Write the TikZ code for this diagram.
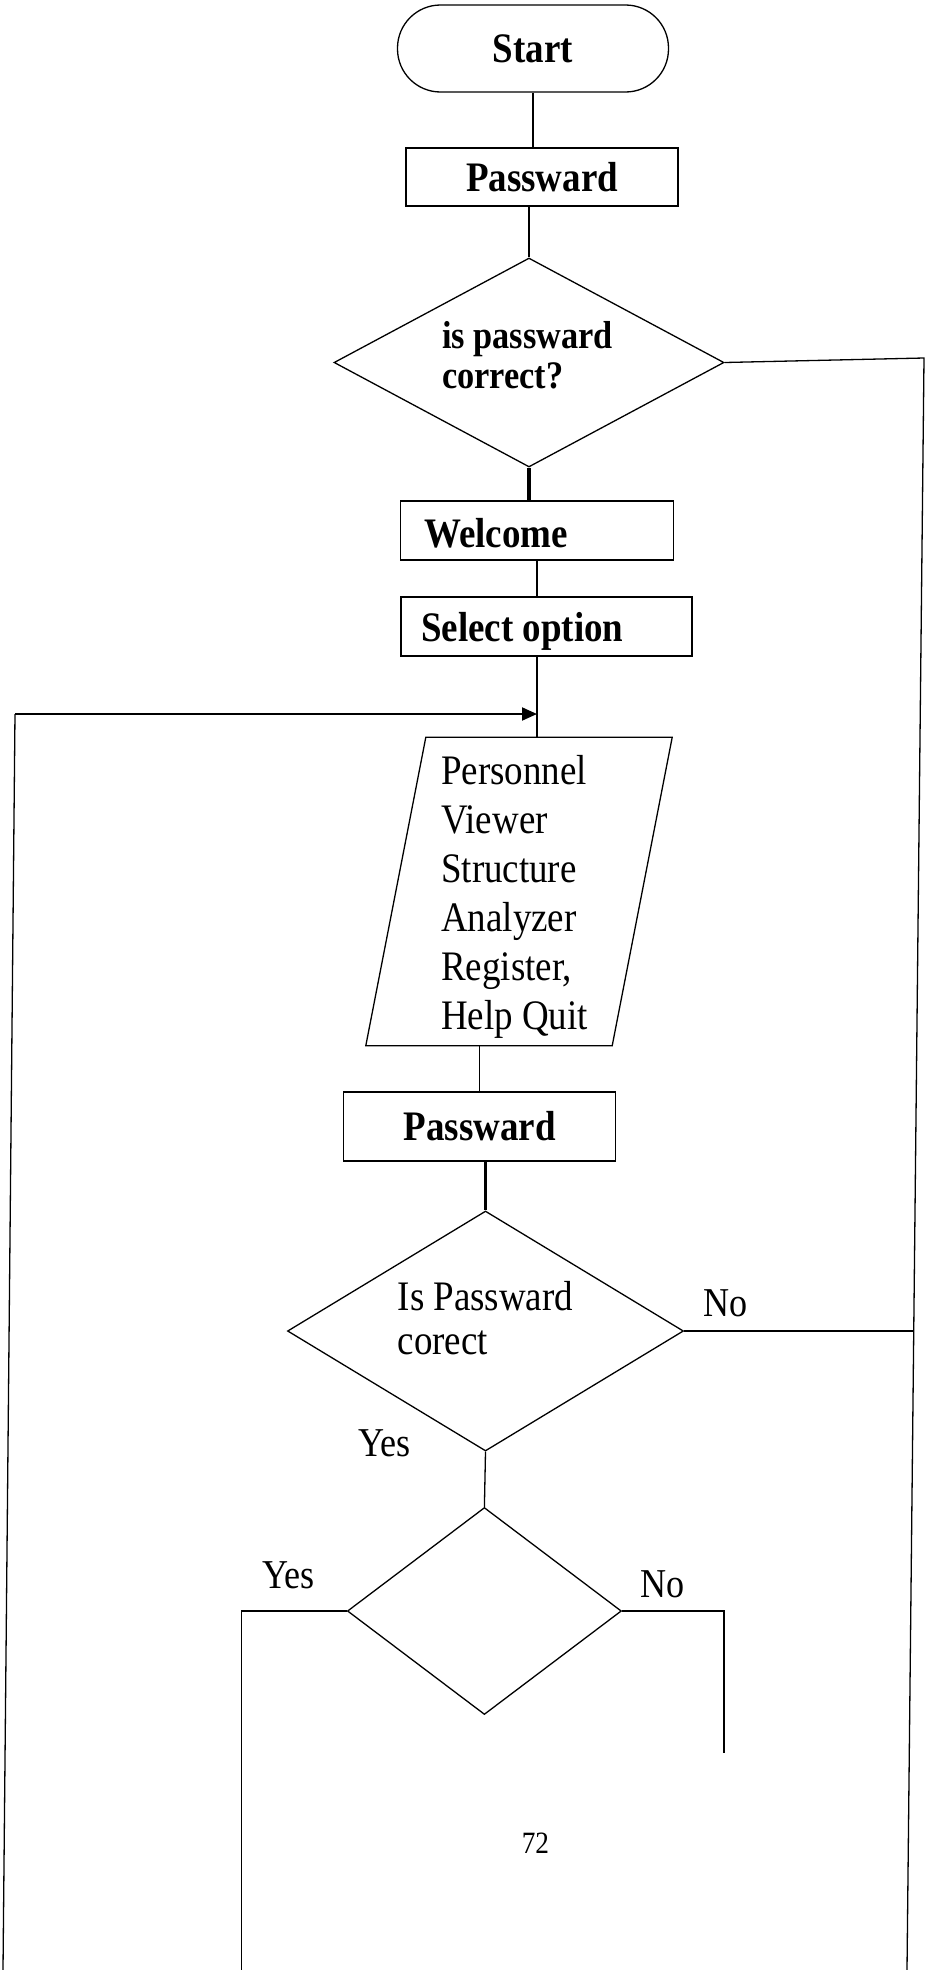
\documentclass[tikz,border=0pt]{standalone}
\usepackage{fontspec}
\setmainfont{Liberation Serif}[FakeStretch=0.88]
\usetikzlibrary{shapes.geometric,arrows.meta,calc}
\begin{document}
\begin{tikzpicture}[x=1pt,y=-1pt,
  ln/.style={line width=1.3pt},
  thickln/.style={line width=3.5pt},
  boxnode/.style={draw,line width=1.3pt,rectangle,inner sep=0pt},
  dia/.style={draw,line width=1.3pt,diamond,inner sep=0pt},
  bigbold/.style={font=\fontsize{42}{49}\selectfont\bfseries,inner sep=0pt},
  boldtxt/.style={font=\fontsize{42}{49}\selectfont\bfseries,inner sep=0pt,anchor=base west},
  qtxt/.style={font=\fontsize{39}{45}\selectfont\bfseries,inner sep=0pt,anchor=base west},
  bigtxt/.style={font=\fontsize{42}{49}\selectfont,inner sep=0pt,anchor=base west},
  lbl/.style={font=\fontsize{41}{48}\selectfont,inner sep=0pt,anchor=base west},
  pagenum/.style={font=\fontsize{31}{36}\selectfont,inner sep=0pt,anchor=base west}]
\useasboundingbox[fill=white] (0,0) rectangle (926,1970);

% nodes
\node[boxnode, rounded corners=43pt, minimum width=271pt, minimum height=87pt, bigbold] (start) at (533,48.5) {Start};
\node[boxnode, minimum width=272pt, minimum height=58pt, bigbold] (pw1) at (542,177) {Passward};
\node[dia, minimum width=390pt, minimum height=209pt] (d1) at (529,362.5) {};
\node[qtxt] (t1a) at (442,348) {is passward};
\node[qtxt] (t1b) at (442,388) {correct?};
\node[boxnode, minimum width=273pt, minimum height=59pt] (wel) at (537,530.5) {};
\node[boldtxt] (twel) at (424,547) {Welcome};
\node[boxnode, minimum width=291pt, minimum height=59pt] (sel) at (546.5,626.5) {};
\node[boldtxt] (tsel) at (421,641.6) {Select option};
\node[inner sep=0pt, minimum width=246pt, minimum height=308pt] (par) at (519,891.5) {};
\draw[ln] ($(par.north west)+(30,0)$) -- ($(par.north east)+(30,0)$) -- ($(par.south east)+(-30,0)$) -- ($(par.south west)+(-30,0)$) -- cycle;
\node[bigtxt] (p1) at (441,784) {Personnel};
\node[bigtxt] (p2) at (441,833) {Viewer};
\node[bigtxt] (p3) at (441,882) {Structure};
\node[bigtxt] (p4) at (441,931) {Analyzer};
\node[bigtxt] (p5) at (441,980) {Register,};
\node[bigtxt] (p6) at (441,1029) {Help Quit};
\node[boxnode, minimum width=272pt, minimum height=69pt, bigbold] (pw2) at (479.8,1126.5) {Passward};
\node[dia, minimum width=396pt, minimum height=240pt] (d2) at (485.5,1331) {};
\node[bigtxt] (t2a) at (397.5,1310.6) {Is Passward};
\node[bigtxt] (t2b) at (397.5,1354) {corect};
\node[lbl] (no1) at (703,1316) {No};
\node[lbl] (yes1) at (358,1456) {Yes};
\node[dia, minimum width=274pt, minimum height=207pt] (d3) at (484.4,1611) {};
\node[lbl] (yes2) at (262,1588) {Yes};
\node[lbl] (no2) at (640,1597) {No};
\node[pagenum] (pg) at (521.6,1853.5) {72};

% free ends
\coordinate (r1) at (924,358);
\coordinate (r2) at (907,1970);
\coordinate (r3) at (914,1331);
\coordinate (l1) at (15,714);
\coordinate (l2) at (3,1970);
\coordinate (a1) at (wel.south |- l1);
\coordinate (y1) at (241.6,1611);
\coordinate (y2) at (241.6,1970);
\coordinate (n1) at (724,1611);
\coordinate (n2) at (724,1753);

% connectors
\draw[ln] (start.south) -- (start.south |- pw1.north);
\draw[ln] (d1.north |- pw1.south) -- (d1.north);
\draw[ln] (d1.east) -- (r1) -- (r2);
\draw[thickln] (d1.south) -- (d1.south |- wel.north);
\draw[ln] (wel.south) -- (wel.south |- sel.north);
\draw[ln] (wel.south |- sel.south) -- (wel.south |- par.north);
\draw[ln] (l2) -- (l1);
\draw[line width=2pt,-{Triangle[length=15pt,width=13pt]}] (l1) -- (a1);
\draw[ln] (pw2.north |- par.south) -- (pw2.north);
\draw[thickln] (d2.north |- pw2.south) -- (d2.north);
\draw[ln] (d2.east) -- (r3);
\draw[ln] (d2.south) -- (d3.north);
\draw[ln] (d3.west) -- (y1) -- (y2);
\draw[ln] (d3.east) -- (n1) -- (n2);
\end{tikzpicture}
\end{document}
